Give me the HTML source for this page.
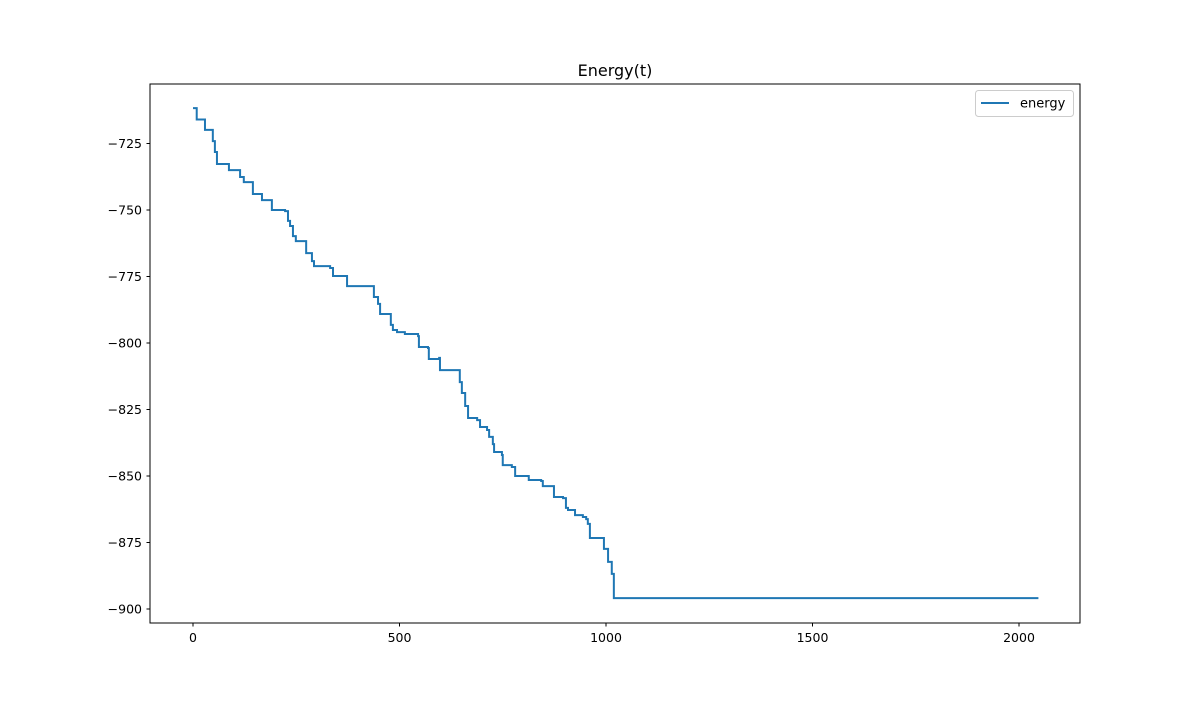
<!DOCTYPE html>
<html><head><meta charset="utf-8"><style>
body{margin:0;background:#fff}
svg text{font-family:"DejaVu Sans","Liberation Sans",sans-serif;fill:#000}
</style></head><body>
<svg id="chart" width="1200" height="700">
<rect width="1200" height="700" fill="#fff"/>
<text x="615" y="76" font-size="16" text-anchor="middle">Energy(t)</text>
<g id="ticks"></g>
<polyline id="line" fill="none" stroke="#1f77b4" stroke-width="2"/>
<rect x="150" y="84" width="930" height="539" fill="none" stroke="#000" stroke-width="1"/>
<g>
<rect x="975.5" y="90.5" width="98" height="26" rx="3" fill="#fff" stroke="#ccc"/>
<line x1="981" y1="103" x2="1009" y2="103" stroke="#1f77b4" stroke-width="2"/>
<text x="1020" y="107.5" font-size="13">energy</text>
</g>
</svg>
<script>
const tVals=[0,9,29,48,53,58,87,114,123,145,167,191,223,230,235,242,249,274,288,293,332,339,373,438,448,453,479,484,494,513,545,547,569,571,596,598,646,651,659,666,688,695,712,717,726,729,748,750,772,780,813,843,847,874,896,903,908,925,944,952,956,961,995,1005,1014,1019,2047];
const eVals=[-711.7,-716,-719.9,-724.1,-728.2,-732.7,-735,-737.6,-739.5,-744,-746.3,-750,-750.4,-754.1,-756,-759.8,-761.7,-766.2,-769.2,-771.1,-771.8,-774.8,-778.6,-782.7,-785.3,-789.1,-793.2,-795.1,-795.9,-796.6,-797.4,-801.5,-801.9,-806,-805.6,-810.2,-814.7,-818.8,-823.7,-828.2,-829,-831.6,-832.7,-835.3,-838,-841,-842.1,-845.9,-846.6,-850,-851.5,-851.9,-853.8,-857.9,-858.3,-862,-862.8,-864.7,-865.4,-866.2,-868,-873.3,-877.4,-882.3,-886.8,-895.9,-895.9];
const xTicks=[0,500,1000,1500,2000];
const yTicks=[-725,-750,-775,-800,-825,-850,-875,-900];
const xs=t=>193+t*0.413;
const ys=e=>609-(e+900)*2.66;
const NS='http://www.w3.org/2000/svg';
const g=document.getElementById('ticks');
function mk(tag,attrs){const el=document.createElementNS(NS,tag);for(const k in attrs)el.setAttribute(k,attrs[k]);g.appendChild(el);return el;}
xTicks.forEach(v=>{
  const x=xs(v);
  const l=mk('line',{x1:x,x2:x,y1:623,y2:626.5,stroke:'#000'});
  
  
  const t=mk('text',{x:x,y:642,'font-size':12.5,'text-anchor':'middle'});
  t.textContent=v;
  
  
});
yTicks.forEach(v=>{
  const y=ys(v);
  const l=mk('line',{x1:146.5,x2:150,y1:y,y2:y,stroke:'#000'});
  
  
  const t=mk('text',{x:142,y:y+4.5,'font-size':12.5,'text-anchor':'end'});
  t.textContent='\u2212'+Math.abs(v);
  
  
});
const pts=[];
for(let i=0;i<tVals.length;i++){
  if(i>0)pts.push(xs(tVals[i])+','+ys(eVals[i-1]));
  pts.push(xs(tVals[i])+','+ys(eVals[i]));
}
document.getElementById('line').setAttribute('points',pts.join(' '));
</script>
</body></html>
